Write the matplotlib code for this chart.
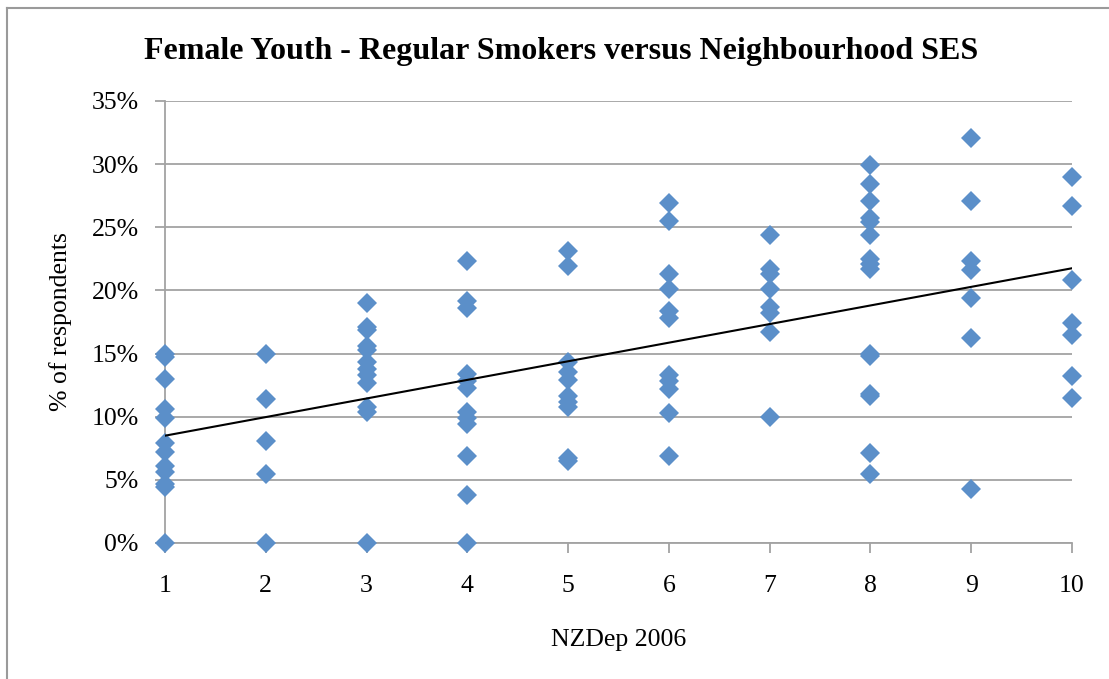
import numpy as np
import matplotlib
matplotlib.use("Agg")
import matplotlib.pyplot as plt
from matplotlib.ticker import FuncFormatter
from matplotlib.lines import Line2D

# Regular smoking prevalence (%) among female youth, grouped by NZDep 2006 decile
dep_1 = [15.0, 14.7, 13.0, 10.6, 9.9, 7.9, 7.2, 6.1, 5.6, 4.7, 4.4, 0.0]
dep_2 = [15.0, 11.4, 8.1, 5.5, 0.0]
dep_3 = [19.0, 17.1, 16.9, 15.6, 15.3, 14.3, 13.8, 13.3, 12.7, 10.8, 10.4, 0.0]
dep_4 = [22.3, 19.2, 18.6, 13.4, 12.8, 12.3, 10.4, 9.9, 9.4, 6.9, 3.8, 0.0]
dep_5 = [23.1, 21.9, 14.3, 13.5, 12.9, 11.6, 11.2, 10.8, 6.7, 6.5]
dep_6 = [26.9, 25.5, 21.3, 20.1, 18.4, 17.8, 13.3, 12.8, 12.2, 10.3, 6.9]
dep_7 = [24.4, 21.7, 21.3, 20.1, 18.7, 18.2, 16.7, 10.0]
dep_8 = [29.9, 28.4, 27.1, 25.7, 25.4, 24.4, 22.5, 22.1, 21.7, 15.0, 14.8,
         11.8, 11.6, 7.1, 5.5]
dep_9 = [32.1, 27.1, 22.3, 21.6, 19.4, 16.2, 4.3]
dep_10 = [29.0, 26.7, 20.8, 17.4, 16.5, 13.2, 11.5]

deciles = [1, 2, 3, 4, 5, 6, 7, 8, 9, 10]
groups = [dep_1, dep_2, dep_3, dep_4, dep_5, dep_6, dep_7, dep_8, dep_9, dep_10]
y_ticks = [0, 5, 10, 15, 20, 25, 30, 35]

title = "Female Youth - Regular Smokers versus Neighbourhood SES"
x_label = "NZDep 2006"
y_label = "% of respondents"

x = np.concatenate([[d] * len(g) for d, g in zip(deciles, groups)]).astype(float)
y = np.concatenate(groups) / 100.0

plt.rcParams["font.family"] = ["Liberation Serif", "DejaVu Serif"]

fig = plt.figure(figsize=(11.09, 6.79), dpi=100)
ax = fig.add_axes([0.1488, 0.2003, 0.9666 - 0.1488, 0.8513 - 0.2003])

grid_c = "#a3a3a3"
marker_c = "#5b8fc9"

ax.set_xlim(1, 10)
ax.set_ylim(0, 0.35)
ax.set_xticks(deciles)
ax.set_yticks([t / 100 for t in y_ticks])
ax.yaxis.set_major_formatter(FuncFormatter(lambda v, _: f"{v * 100:.0f}%"))
ax.grid(axis="y", color=grid_c, linewidth=1.3)
ax.set_axisbelow(True)
for side in ("top", "right"):
    ax.spines[side].set_visible(False)
for side in ("left", "bottom"):
    ax.spines[side].set_color(grid_c)
    ax.spines[side].set_linewidth(1.3)
ax.tick_params(axis="both", colors=grid_c, width=1.3, length=7,
               labelcolor="black", labelsize=18.5)
ax.tick_params(axis="x", pad=16)
ax.tick_params(axis="y", pad=12)

ax.plot(x, y, linestyle="none", marker="D", markersize=10.5,
        color=marker_c, markeredgewidth=0, clip_on=False, zorder=3)

# Least-squares linear trend across all neighbourhoods
slope, intercept = np.polyfit(x, y, 1)
xs = np.array([1.0, 10.0])
ax.plot(xs, intercept + slope * xs, color="black", linewidth=1.5, zorder=4)

fig.text(0.506, 1 - 51 / 679, title, ha="center", va="center",
         fontsize=23, fontweight="bold")
ax.set_xlabel(x_label, fontsize=18.5, labelpad=23)
ax.set_ylabel(y_label, fontsize=18.5, labelpad=14)

# Chart-area frame (left and top edges)
fig.add_artist(Line2D([7 / 1109, 7 / 1109], [0, 1 - 8 / 679],
                      transform=fig.transFigure, color="#9a9a9a", linewidth=1.5))
fig.add_artist(Line2D([7 / 1109, 1], [1 - 8 / 679, 1 - 8 / 679],
                      transform=fig.transFigure, color="#9a9a9a", linewidth=1.5))

fig.savefig("out.png", dpi=100)
